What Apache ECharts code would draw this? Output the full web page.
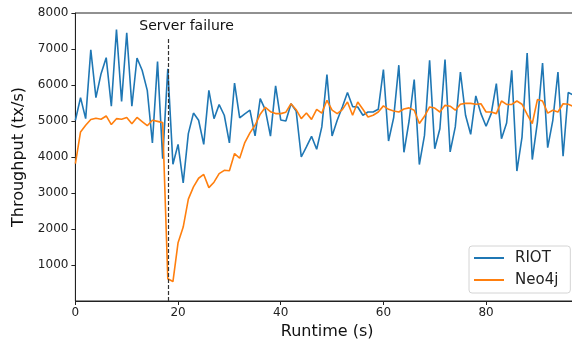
<!DOCTYPE html>
<html>
<head>
<meta charset="utf-8">
<script src="https://cdn.jsdelivr.net/npm/echarts@6/dist/echarts.min.js"></script>
<style>html,body{margin:0;padding:0;background:#fff;}#c{width:572px;height:339px;}</style>
</head>
<body>
<div id="c"></div>
<script>
const runtime = Array.from({length: 98}, (_, i) => i);
const riot = [5020,5650,5065,6980,5650,6315,6760,5410,7540,5540,
  7450,5410,6750,6410,5850,4390,6650,3955,6450,3800,
  4350,3280,4650,5220,5020,4350,5850,5065,5455,5160,
  4390,6055,5090,5200,5300,4585,5620,5310,4580,5975,
  5030,5000,5480,5280,4000,4280,4575,4215,4835,6290,
  4585,5020,5390,5790,5400,5390,5160,5250,5250,5325,
  6430,4445,5095,6550,4130,5000,6150,3790,4600,6685,
  4230,4785,6705,4140,4835,6360,5160,4630,5695,5205,
  4855,5205,6040,4510,4945,6410,3610,4555,6890,3930,
  4970,6610,4260,5020,6360,4020,5790,5720];
const neo4j = [3815,4695,4880,5040,5075,5050,5140,4900,5065,5050,
  5100,4925,5100,4985,4870,5020,4990,4955,620,540,
  1620,2055,2830,3170,3410,3515,3150,3300,3540,3630,
  3620,4095,3965,4400,4670,4880,5190,5380,5260,5205,
  5205,5245,5480,5315,5065,5220,5045,5325,5220,5575,
  5300,5205,5315,5530,5160,5530,5325,5110,5160,5250,
  5420,5325,5280,5250,5335,5365,5300,4930,5130,5390,
  5360,5250,5435,5410,5300,5465,5490,5490,5465,5480,
  5250,5250,5205,5555,5460,5460,5555,5465,5185,4930,
  5595,5555,5220,5300,5250,5480,5465,5400];
const failureTime = 18;
const failureTop = 7300;
const failureLabel = 'Server failure';
const labelAt = [12.45, 7630];
const seriesNames = ['RIOT', 'Neo4j'];
const xMax = 98.1;

const chart = echarts.init(document.getElementById('c'), null, {renderer: 'canvas'});
const font = 'DejaVu Sans';
chart.setOption({
  animation: false,
  textStyle: {fontFamily: font},
  grid: {left: 75.4, width: 503.6, top: 13, height: 288, outerBoundsMode: 'none', containLabel: false,
    show: true, borderColor: '#222', borderWidth: 1, backgroundColor: 'transparent'},
  legend: {
    data: seriesNames,
    orient: 'vertical',
    left: 469, top: 246,
    padding: [4, 12, 5, 5],
    itemGap: 6,
    itemWidth: 30, itemHeight: 2,
    icon: 'rect',
    backgroundColor: '#fff',
    borderColor: '#d4d4d4', borderWidth: 1, borderRadius: 3,
    textStyle: {fontFamily: font, fontSize: 15, color: '#222', lineHeight: 16, padding: [0, 0, 0, 6]}
  },
  xAxis: {
    type: 'value', min: 0, max: xMax, interval: 20,
    name: 'Runtime (s)', nameLocation: 'middle', nameGap: 21,
    nameTextStyle: {fontFamily: font, fontSize: 16, color: '#111'},
    axisLine: {lineStyle: {color: '#222', width: 1}},
    axisTick: {length: 4, lineStyle: {color: '#222'}},
    axisLabel: {fontFamily: font, fontSize: 12, color: '#222', margin: 6, showMaxLabel: false},
    splitLine: {show: false}
  },
  yAxis: {
    type: 'value', min: 0, max: 8000, interval: 1000,
    name: 'Throughput (tx/s)', nameLocation: 'middle', nameGap: 42, nameRotate: 90,
    nameTextStyle: {fontFamily: font, fontSize: 16, color: '#111'},
    axisLine: {show: true, lineStyle: {color: '#222', width: 1}},
    axisTick: {show: true, length: 4, lineStyle: {color: '#222'}},
    axisLabel: {fontFamily: font, fontSize: 12, color: '#222', margin: 7, showMinLabel: false, formatter: v => String(v)},
    splitLine: {show: false}
  },
  series: [
    {
      name: seriesNames[0], type: 'line', showSymbol: false, symbol: 'none',
      data: runtime.map((t, i) => [t, riot[i]]),
      lineStyle: {color: '#1f77b4', width: 1.6}, itemStyle: {color: '#1f77b4'}
    },
    {
      name: seriesNames[1], type: 'line', showSymbol: false, symbol: 'none',
      data: runtime.map((t, i) => [t, neo4j[i]]),
      lineStyle: {color: '#ff7f0e', width: 1.6}, itemStyle: {color: '#ff7f0e'},
      markLine: {
        silent: true, symbol: 'none', animation: false,
        lineStyle: {color: '#333', type: [4, 2], width: 1.2},
        label: {show: false},
        data: [[{coord: [failureTime, 0]}, {coord: [failureTime, failureTop]}]]
      },
      markPoint: {
        silent: true, symbol: 'circle', symbolSize: 0,
        data: [{coord: labelAt}],
        label: {show: true, position: 'right', distance: 0, formatter: failureLabel, fontFamily: font, fontSize: 14, color: '#111'}
      }
    }
  ]
});
</script>
</body>
</html>
